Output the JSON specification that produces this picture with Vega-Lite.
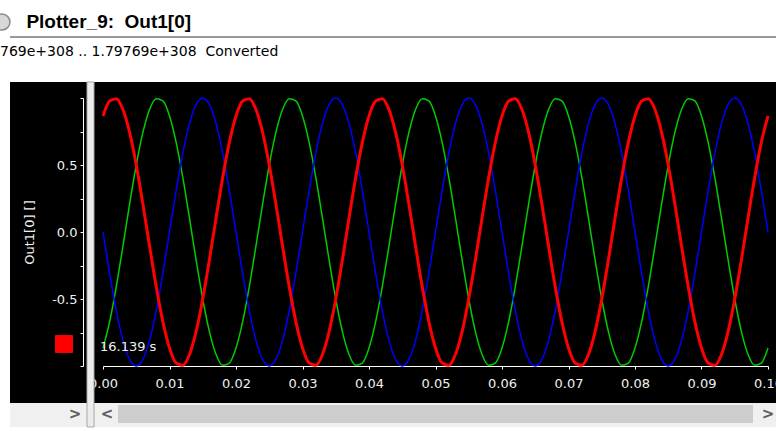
{
  "$schema": "https://vega.github.io/schema/vega-lite/v6.json",
  "width": 766,
  "height": 321,
  "autosize": "none",
  "padding": {"left": 10, "top": 82, "right": 0, "bottom": 28},
  "background": "white",
  "config": {"view": {"fill": "black", "stroke": null}, "font": "DejaVu Sans"},
  "title": {
    "text": "\u200b\u00a0\u00a0\u00a0\u00a0\u00a0Plotter_9:\u00a0 Out1[0]",
    "subtitle": "769e+308 .. 1.79769e+308\u00a0 Converted",
    "anchor": "start",
    "frame": "group",
    "dx": -10,
    "offset": -48,
    "font": "Liberation Sans",
    "fontSize": 19,
    "fontWeight": "bold",
    "color": "black",
    "subtitleFont": "DejaVu Sans",
    "subtitleFontSize": 14,
    "subtitleColor": "black",
    "subtitlePadding": 13
  },
  "datasets": {
    "wave": [
      {"t":0,"r":0.866,"g":-0.866,"b":0},
      {"t":0.001,"r":0.978,"g":-0.669,"b":-0.309},
      {"t":0.002,"r":0.995,"g":-0.407,"b":-0.588},
      {"t":0.003,"r":0.914,"g":-0.105,"b":-0.809},
      {"t":0.004,"r":0.743,"g":0.208,"b":-0.951},
      {"t":0.005,"r":0.5,"g":0.5,"b":-1},
      {"t":0.006,"r":0.208,"g":0.743,"b":-0.951},
      {"t":0.007,"r":-0.105,"g":0.914,"b":-0.809},
      {"t":0.008,"r":-0.407,"g":0.995,"b":-0.588},
      {"t":0.009,"r":-0.669,"g":0.978,"b":-0.309},
      {"t":0.01,"r":-0.866,"g":0.866,"b":0},
      {"t":0.011,"r":-0.978,"g":0.669,"b":0.309},
      {"t":0.012,"r":-0.995,"g":0.407,"b":0.588},
      {"t":0.013,"r":-0.914,"g":0.105,"b":0.809},
      {"t":0.014,"r":-0.743,"g":-0.208,"b":0.951},
      {"t":0.015,"r":-0.5,"g":-0.5,"b":1},
      {"t":0.016,"r":-0.208,"g":-0.743,"b":0.951},
      {"t":0.017,"r":0.105,"g":-0.914,"b":0.809},
      {"t":0.018,"r":0.407,"g":-0.995,"b":0.588},
      {"t":0.019,"r":0.669,"g":-0.978,"b":0.309},
      {"t":0.02,"r":0.866,"g":-0.866,"b":0},
      {"t":0.021,"r":0.978,"g":-0.669,"b":-0.309},
      {"t":0.022,"r":0.995,"g":-0.407,"b":-0.588},
      {"t":0.023,"r":0.914,"g":-0.105,"b":-0.809},
      {"t":0.024,"r":0.743,"g":0.208,"b":-0.951},
      {"t":0.025,"r":0.5,"g":0.5,"b":-1},
      {"t":0.026,"r":0.208,"g":0.743,"b":-0.951},
      {"t":0.027,"r":-0.105,"g":0.914,"b":-0.809},
      {"t":0.028,"r":-0.407,"g":0.995,"b":-0.588},
      {"t":0.029,"r":-0.669,"g":0.978,"b":-0.309},
      {"t":0.03,"r":-0.866,"g":0.866,"b":0},
      {"t":0.031,"r":-0.978,"g":0.669,"b":0.309},
      {"t":0.032,"r":-0.995,"g":0.407,"b":0.588},
      {"t":0.033,"r":-0.914,"g":0.105,"b":0.809},
      {"t":0.034,"r":-0.743,"g":-0.208,"b":0.951},
      {"t":0.035,"r":-0.5,"g":-0.5,"b":1},
      {"t":0.036,"r":-0.208,"g":-0.743,"b":0.951},
      {"t":0.037,"r":0.105,"g":-0.914,"b":0.809},
      {"t":0.038,"r":0.407,"g":-0.995,"b":0.588},
      {"t":0.039,"r":0.669,"g":-0.978,"b":0.309},
      {"t":0.04,"r":0.866,"g":-0.866,"b":0},
      {"t":0.041,"r":0.978,"g":-0.669,"b":-0.309},
      {"t":0.042,"r":0.995,"g":-0.407,"b":-0.588},
      {"t":0.043,"r":0.914,"g":-0.105,"b":-0.809},
      {"t":0.044,"r":0.743,"g":0.208,"b":-0.951},
      {"t":0.045,"r":0.5,"g":0.5,"b":-1},
      {"t":0.046,"r":0.208,"g":0.743,"b":-0.951},
      {"t":0.047,"r":-0.105,"g":0.914,"b":-0.809},
      {"t":0.048,"r":-0.407,"g":0.995,"b":-0.588},
      {"t":0.049,"r":-0.669,"g":0.978,"b":-0.309},
      {"t":0.05,"r":-0.866,"g":0.866,"b":0},
      {"t":0.051,"r":-0.978,"g":0.669,"b":0.309},
      {"t":0.052,"r":-0.995,"g":0.407,"b":0.588},
      {"t":0.053,"r":-0.914,"g":0.105,"b":0.809},
      {"t":0.054,"r":-0.743,"g":-0.208,"b":0.951},
      {"t":0.055,"r":-0.5,"g":-0.5,"b":1},
      {"t":0.056,"r":-0.208,"g":-0.743,"b":0.951},
      {"t":0.057,"r":0.105,"g":-0.914,"b":0.809},
      {"t":0.058,"r":0.407,"g":-0.995,"b":0.588},
      {"t":0.059,"r":0.669,"g":-0.978,"b":0.309},
      {"t":0.06,"r":0.866,"g":-0.866,"b":0},
      {"t":0.061,"r":0.978,"g":-0.669,"b":-0.309},
      {"t":0.062,"r":0.995,"g":-0.407,"b":-0.588},
      {"t":0.063,"r":0.914,"g":-0.105,"b":-0.809},
      {"t":0.064,"r":0.743,"g":0.208,"b":-0.951},
      {"t":0.065,"r":0.5,"g":0.5,"b":-1},
      {"t":0.066,"r":0.208,"g":0.743,"b":-0.951},
      {"t":0.067,"r":-0.105,"g":0.914,"b":-0.809},
      {"t":0.068,"r":-0.407,"g":0.995,"b":-0.588},
      {"t":0.069,"r":-0.669,"g":0.978,"b":-0.309},
      {"t":0.07,"r":-0.866,"g":0.866,"b":0},
      {"t":0.071,"r":-0.978,"g":0.669,"b":0.309},
      {"t":0.072,"r":-0.995,"g":0.407,"b":0.588},
      {"t":0.073,"r":-0.914,"g":0.105,"b":0.809},
      {"t":0.074,"r":-0.743,"g":-0.208,"b":0.951},
      {"t":0.075,"r":-0.5,"g":-0.5,"b":1},
      {"t":0.076,"r":-0.208,"g":-0.743,"b":0.951},
      {"t":0.077,"r":0.105,"g":-0.914,"b":0.809},
      {"t":0.078,"r":0.407,"g":-0.995,"b":0.588},
      {"t":0.079,"r":0.669,"g":-0.978,"b":0.309},
      {"t":0.08,"r":0.866,"g":-0.866,"b":0},
      {"t":0.081,"r":0.978,"g":-0.669,"b":-0.309},
      {"t":0.082,"r":0.995,"g":-0.407,"b":-0.588},
      {"t":0.083,"r":0.914,"g":-0.105,"b":-0.809},
      {"t":0.084,"r":0.743,"g":0.208,"b":-0.951},
      {"t":0.085,"r":0.5,"g":0.5,"b":-1},
      {"t":0.086,"r":0.208,"g":0.743,"b":-0.951},
      {"t":0.087,"r":-0.105,"g":0.914,"b":-0.809},
      {"t":0.088,"r":-0.407,"g":0.995,"b":-0.588},
      {"t":0.089,"r":-0.669,"g":0.978,"b":-0.309},
      {"t":0.09,"r":-0.866,"g":0.866,"b":0},
      {"t":0.091,"r":-0.978,"g":0.669,"b":0.309},
      {"t":0.092,"r":-0.995,"g":0.407,"b":0.588},
      {"t":0.093,"r":-0.914,"g":0.105,"b":0.809},
      {"t":0.094,"r":-0.743,"g":-0.208,"b":0.951},
      {"t":0.095,"r":-0.5,"g":-0.5,"b":1},
      {"t":0.096,"r":-0.208,"g":-0.743,"b":0.951},
      {"t":0.097,"r":0.105,"g":-0.914,"b":0.809},
      {"t":0.098,"r":0.407,"g":-0.995,"b":0.588},
      {"t":0.099,"r":0.669,"g":-0.978,"b":0.309},
      {"t":0.1,"r":0.866,"g":-0.866,"b":0}
    ]
  },
  "layer": [
    {
      "data": {"name": "wave"},
      "transform": [{"fold": ["g", "b"], "as": ["series", "v"]}],
      "mark": {"type": "line", "strokeWidth": 1.5, "interpolate": "monotone"},
      "encoding": {
        "x": {
          "field": "t",
          "type": "quantitative",
          "scale": {"domain": [0, 0.1], "range": [93, 758], "nice": false, "zero": false},
          "axis": {
            "offset": -37,
            "values": [0, 0.005, 0.01, 0.015, 0.02, 0.025, 0.03, 0.035, 0.04, 0.045, 0.05, 0.055, 0.06, 0.065, 0.07, 0.075, 0.08, 0.085, 0.09, 0.095, 0.1],
            "labelExpr": "round(datum.value*1000) % 10 == 0 ? format(datum.value, '.2f') : ''",
            "domainColor": "#ffffff",
            "tickColor": "#ffffff",
            "tickSize": 3,
            "labelColor": "#f0f0f0",
            "labelFont": "DejaVu Sans",
            "labelFontSize": 13,
            "labelPadding": 8,
            "labelFlush": false,
            "labelOverlap": false,
            "labelBound": false,
            "grid": false,
            "title": null
          }
        },
        "y": {
          "field": "v",
          "type": "quantitative",
          "scale": {"domain": [-1, 1], "range": [284, 16], "nice": false, "zero": false},
          "axis": {
            "offset": -73,
            "values": [-1, -0.75, -0.5, -0.25, 0, 0.25, 0.5, 0.75, 1],
            "labelExpr": "datum.value == 0.5 ? '0.5' : datum.value == 0 ? '0.0' : datum.value == -0.5 ? '-0.5' : ''",
            "domainColor": "#ffffff",
            "tickColor": "#ffffff",
            "tickSize": 3,
            "labelColor": "#f0f0f0",
            "labelFont": "DejaVu Sans",
            "labelFontSize": 13,
            "labelPadding": 3,
            "labelFlush": false,
            "labelOverlap": false,
            "grid": false,
            "title": "Out1[0] []",
            "titleColor": "#f0f0f0",
            "titleFont": "DejaVu Sans",
            "titleFontSize": 13,
            "titleFontWeight": "normal",
            "titleAngle": -90,
            "titleX": -54,
            "titleY": 150,
            "titleAlign": "center",
            "titleBaseline": "middle"
          }
        },
        "color": {
          "field": "series",
          "type": "nominal",
          "scale": {"domain": ["r", "g", "b"], "range": ["#ff0000", "#00cc00", "#0000ff"]},
          "legend": {
            "orient": "none",
            "legendX": 45,
            "legendY": 253,
            "values": ["r"],
            "title": null,
            "symbolType": "square",
            "symbolSize": 289,
            "labelExpr": "''",
            "padding": 0,
            "symbolOffset": 0,
            "encode": {"symbols": {"update": {"fill": {"value": "#ff0000"}, "stroke": {"value": "#909090"}, "strokeWidth": {"value": 1}}}}
          }
        }
      }
    },
    {
      "data": {"name": "wave"},
      "transform": [{"fold": ["r"], "as": ["series", "v"]}],
      "mark": {"type": "line", "strokeWidth": 3, "interpolate": "monotone"},
      "encoding": {
        "x": {"field": "t", "type": "quantitative"},
        "y": {"field": "v", "type": "quantitative"},
        "color": {"field": "series", "type": "nominal"}
      }
    },
    {
      "data": {"values": [{}]},
      "mark": {"type": "rect", "fill": "#f0f0f0"},
      "encoding": {
        "x": {"datum": -0.013985, "type": "quantitative"},
        "x2": {"datum": 0.101203},
        "y": {"datum": -1.276119, "type": "quantitative"},
        "y2": {"datum": -1.455224}
      }
    },
    {
      "data": {"values": [{}]},
      "mark": {"type": "rect", "fill": "#cdcdcd"},
      "encoding": {
        "x": {"datum": 0.002256, "type": "quantitative"},
        "x2": {"datum": 0.097744},
        "y": {"datum": -1.291045, "type": "quantitative"},
        "y2": {"datum": -1.425373}
      }
    },
    {
      "data": {"values": [{}]},
      "mark": {"type": "rule", "stroke": "#999999", "strokeWidth": 2},
      "encoding": {
        "x": {"datum": -0.013985, "type": "quantitative"},
        "x2": {"datum": 0.101203},
        "y": {"datum": 1.455224, "type": "quantitative"}
      }
    },
    {
      "data": {"values": [{}]},
      "mark": {"type": "point", "shape": "circle", "filled": true, "fill": "#d8d8d8", "stroke": "#8a8a8a", "strokeWidth": 1.5, "opacity": 1, "size": 254},
      "encoding": {
        "x": {"datum": -0.015188, "type": "quantitative"},
        "y": {"datum": 1.567164, "type": "quantitative"}
      }
    },
    {
      "data": {"values": [{}]},
      "mark": {"type": "rect", "fill": "#ececec", "stroke": "#a8a8a8", "strokeWidth": 1},
      "encoding": {
        "x": {"datum": -0.002406, "type": "quantitative"},
        "x2": {"datum": -0.001353},
        "y": {"datum": 1.119403, "type": "quantitative"},
        "y2": {"datum": -1.455224}
      }
    },
    {
      "data": {"values": [{"label": "16.139 s"}]},
      "mark": {"type": "text", "align": "left", "baseline": "middle", "fontSize": 13, "font": "DejaVu Sans", "color": "#f0f0f0"},
      "encoding": {
        "x": {"datum": -0.000451, "type": "quantitative"},
        "y": {"datum": -0.858, "type": "quantitative"},
        "text": {"field": "label"}
      }
    },
    {
      "data": {"values": [{"a": ">", "p": -0.004211}, {"a": "<", "p": 0.000602}, {"a": ">", "p": 0.1}]},
      "mark": {"type": "text", "align": "center", "baseline": "middle", "fontSize": 15, "fontWeight": "bold", "font": "DejaVu Sans", "color": "#606060"},
      "encoding": {
        "x": {"field": "p", "type": "quantitative"},
        "y": {"datum": -1.358209, "type": "quantitative"},
        "text": {"field": "a"}
      }
    }
  ]
}
